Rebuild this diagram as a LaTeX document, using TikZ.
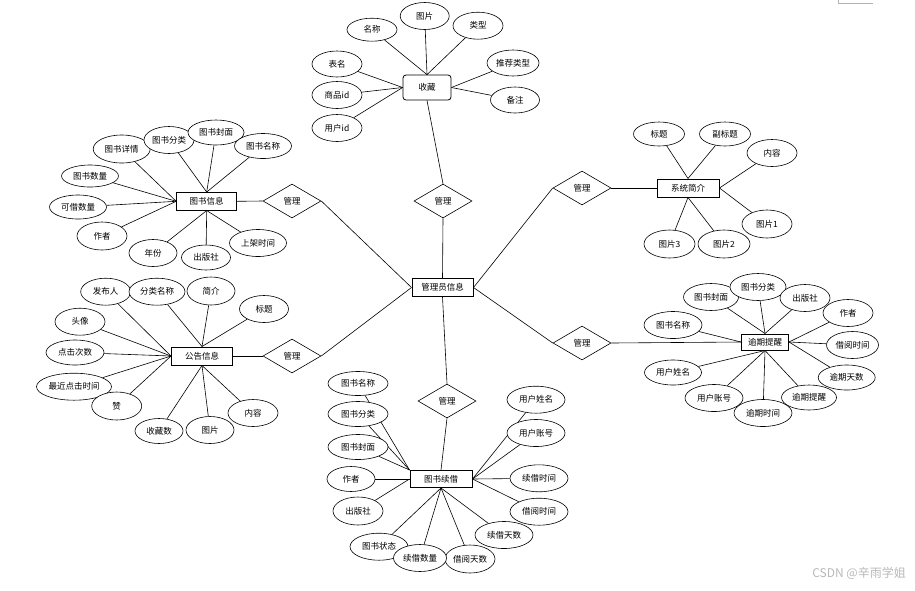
\documentclass[tikz,border=0pt]{standalone}
\usepackage{fontspec}
\setmainfont{Noto Sans CJK SC}
\usetikzlibrary{shapes.geometric,backgrounds}
\tikzset{
  attr/.style={ellipse,draw,fill=white,line width=0.6pt,inner sep=0pt,minimum width=50,minimum height=26,font=\fontsize{8.5}{10}\selectfont},
  ent/.style={rectangle,draw,fill=white,line width=1pt,inner sep=0pt,minimum height=17,font=\fontsize{8.5}{10}\selectfont},
  rel/.style={diamond,draw,fill=white,line width=0.6pt,inner sep=0pt,minimum width=58,minimum height=34,font=\fontsize{8.5}{10}\selectfont},
  link/.style={draw,line width=0.6pt}
}
\begin{document}
\begin{tikzpicture}[x=1pt,y=-1pt]
\useasboundingbox (0,0) rectangle (915,590);
% central
\node[ent,minimum width=61,minimum height=18] (c) at (442.5,287.5) {管理员信息};
% relations
\node[rel] (d1) at (443,201) {管理};
\node[rel] (d2) at (292,201) {管理};
\node[rel] (d3) at (292,356) {管理};
\node[rel] (d4) at (582,188) {管理};
\node[rel] (d5) at (582,343) {管理};
\node[rel] (d6) at (447,401) {管理};
% entities
\node[ent,rounded corners=3pt,line width=0.8pt,minimum width=48,minimum height=25] (b0) at (427,87.5) {收藏};
\node[ent,minimum width=60,minimum height=17.5] (b1) at (206.7,201.3) {图书信息};
\node[ent,minimum width=62,minimum height=18] (b2) at (688,188) {系统简介};
\node[ent,minimum width=61,minimum height=18] (b3) at (202,356) {公告信息};
\node[ent,minimum width=47,minimum height=16] (b4) at (765,342) {逾期提醒};
\node[ent,minimum width=62,minimum height=17] (b5) at (441,479) {图书续借};
% 收藏 attributes
\node[attr,minimum height=23] (s1) at (372,29.7) {名称};
\node[attr,minimum width=49,minimum height=27] (s2) at (424.7,16) {图片};
\node[attr,minimum height=27] (s3) at (478,25.7) {类型};
\node[attr] (s4) at (337,64) {表名};
\node[attr,minimum height=27] (s5) at (337,95) {商品id};
\node[attr,minimum height=27] (s6) at (337,128) {用户id};
\node[attr,minimum width=52] (s7) at (513,63) {推荐类型};
\node[attr,minimum width=49] (s8) at (515,100) {备注};
% 图书信息 attributes
\node[attr,minimum width=57,minimum height=28] (t1) at (121.7,149) {图书详情};
\node[attr,minimum height=27] (t2) at (169,140) {图书分类};
\node[attr,minimum width=56,minimum height=25] (t3) at (216,132.5) {图书封面};
\node[attr,minimum width=57,minimum height=25] (t4) at (263,146) {图书名称};
\node[attr,minimum width=57,minimum height=22] (t5) at (90,176) {图书数量};
\node[attr,minimum width=57,minimum height=24] (t6) at (78,207) {可借数量};
\node[attr,minimum height=28] (t7) at (102,236) {作者};
\node[attr,minimum width=48,minimum height=27] (t8) at (153,253) {年份};
\node[attr,minimum width=49,minimum height=25] (t9) at (206,257.5) {出版社};
\node[attr,minimum width=57,minimum height=27] (t10) at (258,243) {上架时间};
% 系统简介 attributes
\node[attr,minimum width=51,minimum height=24] (x1) at (659,134) {标题};
\node[attr,minimum width=51,minimum height=24] (x2) at (725,134) {副标题};
\node[attr,minimum height=27] (x3) at (772,153) {内容};
\node[attr,minimum height=28] (x4) at (767,224) {图片1};
\node[attr,minimum width=52,minimum height=28] (x5) at (724,244) {图片2};
\node[attr,minimum width=51,minimum height=28] (x6) at (669.5,244) {图片3};
% 公告信息 attributes
\node[attr,minimum height=27] (g1) at (105.7,291.7) {发布人};
\node[attr,minimum width=56,minimum height=27] (g2) at (157,291.7) {分类名称};
\node[attr,minimum width=48,minimum height=28] (g3) at (211,291) {简介};
\node[attr,minimum width=49,minimum height=27] (g4) at (264,309) {标题};
\node[attr,minimum height=27] (g5) at (80,321.7) {头像};
\node[attr,minimum width=58,minimum height=25] (g6) at (75,352.5) {点击次数};
\node[attr,minimum width=75,minimum height=27] (g7) at (74,386.7) {最近点击时间};
\node[attr,minimum height=28] (g8) at (116.7,406) {赞};
\node[attr,minimum width=48,minimum height=25] (g9) at (159,431) {收藏数};
\node[attr,minimum width=48,minimum height=27] (g10) at (210,430) {图片};
\node[attr,minimum height=27] (g11) at (253,413) {内容};
% 逾期提醒 attributes
\node[attr,minimum width=55,minimum height=27] (y1) at (711,297) {图书封面};
\node[attr,minimum width=56,minimum height=27] (y2) at (758,287) {图书分类};
\node[attr,minimum height=27] (y3) at (805,298) {出版社};
\node[attr,minimum height=27] (y4) at (848,313) {作者};
\node[attr,minimum width=52,minimum height=27] (y5) at (852.5,345) {借阅时间};
\node[attr,minimum width=57,minimum height=25] (y6) at (846.7,377.5) {逾期天数};
\node[attr,minimum width=58,minimum height=27] (y11) at (673,325) {图书名称};
\node[attr,minimum width=57,minimum height=25] (y10) at (673,372.5) {用户姓名};
\node[attr,minimum width=58,minimum height=27] (y9) at (714,398) {用户账号};
\node[attr,minimum width=55,minimum height=25] (y7) at (809,397.5) {逾期提醒};
\node[attr,minimum width=58,minimum height=27] (y8) at (763,413) {逾期时间};
% 图书续借 attributes
\node[attr,minimum width=60,minimum height=24] (r1) at (358,383.5) {图书名称};
\node[attr,minimum width=60,minimum height=25] (r2) at (358,414) {图书分类};
\node[attr,minimum width=60,minimum height=25] (r3) at (358,447) {图书封面};
\node[attr,minimum width=48,minimum height=25] (r4) at (351,479) {作者};
\node[attr,minimum height=28] (r5) at (358,511) {出版社};
\node[attr,minimum width=58,minimum height=27] (r6) at (379,546.7) {图书状态};
\node[attr,minimum width=58,minimum height=27] (r9) at (504,535) {续借天数};
\node[attr,minimum width=50,minimum height=28] (r8) at (470,559) {借阅天数};
\node[attr,minimum width=53,minimum height=27] (r7) at (420,558) {续借数量};
\node[attr,minimum width=58,minimum height=27] (r10) at (539,511.7) {借阅时间};
\node[attr,minimum width=58,minimum height=27] (r11) at (539,478.3) {续借时间};
\node[attr,minimum width=58,minimum height=27] (r12) at (536,433) {用户账号};
\node[attr,minimum width=58,minimum height=27] (r13) at (536,399.7) {用户姓名};
% watermark
\node[anchor=east,text=black!28,inner sep=0pt,font=\fontsize{12}{14}\selectfont] (wm) at (906,573) {CSDN @辛雨学姐};
\coordinate (tr1) at (838.5,0);
\coordinate (tr2) at (838.5,3.5);
\coordinate (tr3) at (873,3.5);
\draw[black!30,line width=0.7pt] (tr1) -- (tr2) -- (tr3);
\begin{pgfonlayer}{background}
% central links
\draw[link] (c.north) -- (d1.south);
\draw[link] (d1.north) -- (b0.south);
\draw[link] (c.west) -- (d2.east);
\draw[link] (d2.west) -- (b1.east);
\draw[link] (c.west) -- (d3.east);
\draw[link] (d3.west) -- (b3.east);
\draw[link] (c.east) -- (d4.west);
\draw[link] (d4.east) -- (b2.west);
\draw[link] (c.east) -- (d5.west);
\draw[link] (d5.east) -- (b4.west);
\draw[link] (c.south) -- (d6.north);
\draw[link] (d6.south) -- (b5.north);
% 收藏
\foreach \a in {s1,s2,s3} \draw[link] (\a) -- (b0.north);
\foreach \a in {s4,s5,s6} \draw[link] (\a) -- (b0.west);
\foreach \a in {s7,s8} \draw[link] (\a) -- (b0.east);
% 图书信息
\foreach \a in {t1,t5,t6,t7} \draw[link] (\a) -- (b1.west);
\foreach \a in {t2,t3,t4} \draw[link] (\a) -- (b1.north);
\foreach \a in {t8,t9,t10} \draw[link] (\a) -- (b1.south);
% 系统简介
\foreach \a in {x1,x2} \draw[link] (\a) -- (b2.north);
\foreach \a in {x3,x4} \draw[link] (\a) -- (b2.east);
\foreach \a in {x5,x6} \draw[link] (\a) -- (b2.south);
% 公告信息
\foreach \a in {g1,g5,g6,g7,g8} \draw[link] (\a) -- (b3.west);
\foreach \a in {g2,g3,g4} \draw[link] (\a) -- (b3.north);
\foreach \a in {g9,g10,g11} \draw[link] (\a) -- (b3.south);
% 逾期提醒
\foreach \a in {y1,y2,y3} \draw[link] (\a) -- (b4.north);
\foreach \a in {y4,y5,y6} \draw[link] (\a) -- (b4.east);
\foreach \a in {y7,y8,y9,y10} \draw[link] (\a) -- (b4.south);
\draw[link] (y11) -- (b4.west);
% 图书续借
\foreach \a in {r1,r2,r3} \draw[link] (\a) -- (b5.north west);
\foreach \a in {r4,r5} \draw[link] (\a) -- (b5.west);
\foreach \a in {r6,r7,r8,r9} \draw[link] (\a) -- (b5.south);
\foreach \a in {r10,r11,r12,r13} \draw[link] (\a) -- (b5.east);
\end{pgfonlayer}
\end{tikzpicture}
\end{document}
